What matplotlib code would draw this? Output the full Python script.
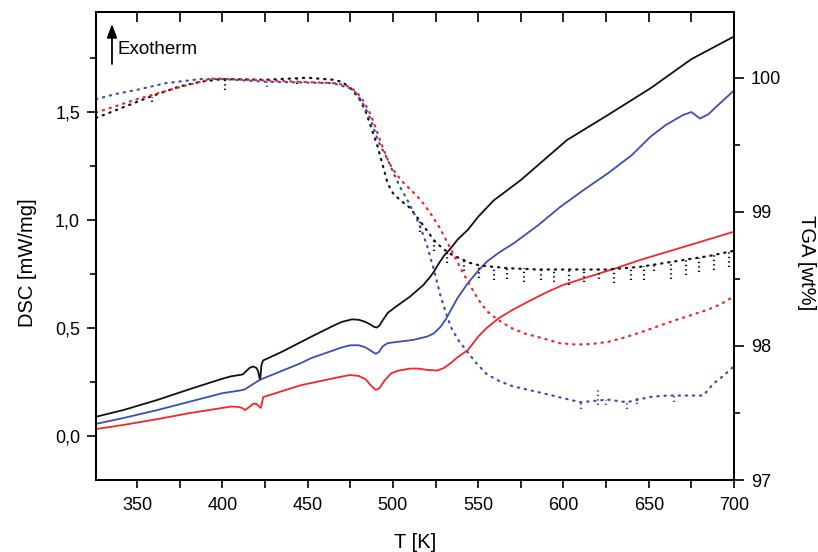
import matplotlib
matplotlib.use('Agg')
import matplotlib.pyplot as plt
from matplotlib.ticker import MultipleLocator, FuncFormatter
import numpy as np

plt.rcParams['font.family'] = ['Liberation Sans', 'DejaVu Sans']

# DSC curves (left axis), T in K, DSC in mW/mg
dsc_black_T = [326, 342, 362, 381, 400, 405, 409, 412, 414, 416, 418, 420, 421, 421.8, 422.2,
               423, 424, 435, 451, 465, 470, 476, 480, 484, 487, 489, 490.5, 492, 494, 497,
               502, 510, 518, 522, 524, 527, 530, 534, 538, 544, 550, 559, 575, 602, 626,
               651, 675, 700]
dsc_black = [0.089, 0.12, 0.167, 0.217, 0.265, 0.276, 0.281, 0.285, 0.30, 0.315, 0.322,
             0.315, 0.30, 0.27, 0.26, 0.33, 0.35, 0.39, 0.455, 0.51, 0.528, 0.54, 0.538,
             0.528, 0.515, 0.505, 0.502, 0.51, 0.535, 0.57, 0.60, 0.645, 0.70, 0.738, 0.76,
             0.80, 0.835, 0.87, 0.91, 0.955, 1.015, 1.09, 1.185, 1.37, 1.486, 1.61, 1.745,
             1.85]

dsc_blue_T = [326, 342, 362, 381, 400, 410, 413, 417, 422, 446, 452, 470, 475, 480, 484,
              487, 490, 492, 494, 497, 504, 512, 520, 524, 528, 531, 534, 538, 544, 550,
              555, 562, 571, 585, 598, 612, 626, 640, 651, 660, 670, 675, 680, 685, 690,
              700]
dsc_blue = [0.056, 0.083, 0.12, 0.159, 0.198, 0.210, 0.215, 0.235, 0.26, 0.337, 0.36, 0.41,
            0.42, 0.42, 0.41, 0.395, 0.38, 0.39, 0.415, 0.43, 0.437, 0.445, 0.46, 0.475,
            0.506, 0.54, 0.583, 0.64, 0.708, 0.765, 0.807, 0.848, 0.893, 0.975, 1.06, 1.14,
            1.216, 1.30, 1.386, 1.44, 1.486, 1.50, 1.47, 1.49, 1.528, 1.60]

dsc_red_T = [326, 342, 362, 381, 405, 409, 411.5, 413.5, 416, 418.3, 420, 421.3, 422.6, 424,
             446, 452, 470, 475, 480, 484, 487, 490, 492, 495, 499, 503, 510, 515, 520,
             526, 530, 534, 538, 544, 550, 555, 562, 570, 580, 590, 600, 610, 630, 645,
             700]
dsc_red = [0.032, 0.051, 0.078, 0.106, 0.136, 0.135, 0.13, 0.12, 0.135, 0.15, 0.148, 0.139,
           0.13, 0.18, 0.235, 0.245, 0.275, 0.282, 0.278, 0.262, 0.235, 0.213, 0.22, 0.255,
           0.29, 0.302, 0.312, 0.312, 0.306, 0.303, 0.315, 0.338, 0.365, 0.398, 0.46, 0.50,
           0.545, 0.583, 0.625, 0.665, 0.70, 0.725, 0.775, 0.815, 0.946]

# TGA curves (right axis), wt%
tga_black_T = [326, 338, 350, 358, 375, 387, 400, 426, 450, 465, 470, 475, 478, 481, 484,
               487, 491, 494, 497, 500, 504, 510, 516, 520, 524, 528, 532, 536, 540, 545,
               551, 567, 585, 606, 626, 645, 665, 685, 700]
tga_black = [99.70, 99.76, 99.82, 99.86, 99.935, 99.97, 99.99, 99.985, 100.0, 99.985, 99.97,
             99.925, 99.88, 99.83, 99.75, 99.64, 99.49, 99.35, 99.21, 99.14, 99.09, 99.03,
             98.93, 98.86, 98.79, 98.74, 98.70, 98.67, 98.65, 98.62, 98.60, 98.58, 98.57,
             98.57, 98.57, 98.59, 98.63, 98.67, 98.71]

# noise spikes on the black TGA trace
spike_black_T = [358.6, 401.7, 444, 466, 516, 524, 532, 541.6, 550.4, 559.2, 567, 576.8,
                 586.7, 594.5, 603.3, 612, 621, 629.7, 639.5, 647.3, 653.2, 663, 671.8,
                 679.6, 688.4, 697.2]
spike_black_top = [99.86, 99.99, 100.0, 99.985, 98.93, 98.79, 98.71, 98.65, 98.60, 98.59,
                   98.58, 98.58, 98.57, 98.57, 98.57, 98.57, 98.57, 98.575, 98.585, 98.595,
                   98.60, 98.63, 98.64, 98.655, 98.675, 98.70]
spike_black_bot = [99.82, 99.91, 99.95, 99.95, 98.85, 98.71, 98.62, 98.56, 98.51, 98.49,
                   98.50, 98.48, 98.49, 98.48, 98.455, 98.48, 98.50, 98.468, 98.49, 98.49,
                   98.56, 98.50, 98.53, 98.555, 98.567, 98.59]

tga_blue_T = [326, 338, 350, 367, 387, 400, 426, 465, 475, 478, 481, 484, 487, 491, 494,
              497, 500, 504, 508, 512, 516, 520, 524, 528, 531, 534, 538, 544, 549, 555,
              562, 570, 587, 600, 610, 626, 637, 651, 661, 671, 682, 688, 694, 700]
tga_blue = [99.84, 99.88, 99.91, 99.96, 99.99, 99.99, 99.97, 99.96, 99.92, 99.89, 99.84,
            99.77, 99.69, 99.54, 99.46, 99.39, 99.30, 99.19, 99.10, 99.00, 98.89, 98.75,
            98.57, 98.37, 98.25, 98.14, 98.05, 97.95, 97.87, 97.79, 97.74, 97.70, 97.65,
            97.61, 97.58, 97.60, 97.58, 97.62, 97.63, 97.63, 97.63, 97.72, 97.78, 97.85]

spike_blue_T = [426, 610, 620, 625, 637, 643, 665]
spike_blue_top = [99.97, 97.58, 97.68, 97.60, 97.58, 97.61, 97.63]
spike_blue_bot = [99.93, 97.53, 97.56, 97.56, 97.53, 97.57, 97.58]

tga_red_T = [326, 338, 350, 375, 395, 426, 465, 470, 475, 479, 483, 486, 489, 492, 495,
             498, 502, 506, 510, 514, 518, 522, 527, 532, 536, 540, 544, 548, 552, 556,
             561, 566, 570, 578, 587, 598, 608, 617, 626, 635, 645, 655, 665, 675, 684.5,
             692, 700]
tga_red = [99.74, 99.79, 99.84, 99.93, 99.995, 99.98, 99.96, 99.95, 99.93, 99.89, 99.82,
           99.75, 99.66, 99.55, 99.45, 99.36, 99.28, 99.22, 99.17, 99.12, 99.06, 98.99,
           98.89, 98.77, 98.67, 98.57, 98.48, 98.39, 98.31, 98.25, 98.20, 98.16, 98.13,
           98.09, 98.06, 98.02, 98.01, 98.015, 98.03, 98.06, 98.10, 98.145, 98.19, 98.23,
           98.27, 98.31, 98.37]

BLACK = '#111111'
BLUE = '#3a4fb5'
RED = '#f02828'
DOTS = (0, (0.6, 2.6))
SPIKE_DOTS = (0, (0.6, 1.4))

fig = plt.figure(figsize=(8.18, 5.52), dpi=100)
ax = fig.add_axes([0.1174, 0.1304, 0.7800, 0.8478])
ax2 = ax.twinx()

ax.plot(dsc_black_T, dsc_black, color=BLACK, lw=1.3)
ax.plot(dsc_blue_T, dsc_blue, color=BLUE, lw=1.3)
ax.plot(dsc_red_T, dsc_red, color=RED, lw=1.3)

ax2.plot(tga_black_T, tga_black, color=BLACK, lw=1.6, ls=DOTS, dash_capstyle='round')
ax2.vlines(spike_black_T, spike_black_bot, spike_black_top, color=BLACK, lw=1.6,
           linestyles=[SPIKE_DOTS])
ax2.plot(tga_blue_T, tga_blue, color=BLUE, lw=1.6, ls=DOTS, dash_capstyle='round')
ax2.vlines(spike_blue_T, spike_blue_bot, spike_blue_top, color=BLUE, lw=1.6,
           linestyles=[SPIKE_DOTS])
ax2.plot(tga_red_T, tga_red, color=RED, lw=1.6, ls=DOTS, dash_capstyle='round')

ax.set_xlim(326, 700)
ax.set_ylim(-0.204, 1.963)
ax2.set_ylim(97, 100.49)

ax.xaxis.set_major_locator(MultipleLocator(50))
ax.xaxis.set_minor_locator(MultipleLocator(25))
ax.yaxis.set_major_locator(MultipleLocator(0.5))
ax.yaxis.set_minor_locator(MultipleLocator(0.25))
ax.yaxis.set_major_formatter(FuncFormatter(lambda v, p: f'{v:.1f}'.replace('.', ',')))
ax2.yaxis.set_major_locator(MultipleLocator(1))
ax2.yaxis.set_minor_locator(MultipleLocator(0.5))

ax.tick_params(axis='x', which='major', direction='out', length=6, width=1.2,
               labelsize=13, pad=6)
ax.tick_params(axis='x', which='minor', direction='out', length=6, width=1.2)
ax.tick_params(axis='y', which='major', direction='out', length=6.5, width=1.2,
               labelsize=13, pad=5)
ax.tick_params(axis='y', which='minor', direction='out', length=4.5, width=1.2)
ax2.tick_params(axis='y', which='major', direction='out', length=7, width=1.2,
                labelsize=13, pad=5)
ax2.tick_params(axis='y', which='minor', direction='out', length=4.5, width=1.2)

top = ax.secondary_xaxis('top')
top.set_xticks(np.arange(350, 701, 25))
top.tick_params(axis='x', direction='in', length=7, width=1.2, labeltop=False)
top.spines['top'].set_linewidth(1.4)

for sp in ax.spines.values():
    sp.set_linewidth(1.4)
for sp in ax2.spines.values():
    sp.set_linewidth(1.4)

ax.set_xlabel('T [K]', fontsize=14.5, labelpad=14)
ax.set_ylabel('DSC [mW/mg]', fontsize=14.5)
ax.yaxis.set_label_coords(-0.092, 0.464)
ax2.set_ylabel('TGA [wt%]', fontsize=14.5, rotation=270, va='center')
ax2.yaxis.set_label_coords(1.113, 0.464)

ax.annotate('', xy=(0.025, 0.975), xytext=(0.025, 0.889), xycoords='axes fraction',
            arrowprops=dict(arrowstyle='-|>,head_length=0.55,head_width=0.2',
                            mutation_scale=15, color='black', lw=1.3,
                            shrinkA=0, shrinkB=0))
ax.text(0.033, 0.921, 'Exotherm', transform=ax.transAxes, fontsize=13.5, va='center',
        ha='left')

fig.savefig('out.png', dpi=100)
